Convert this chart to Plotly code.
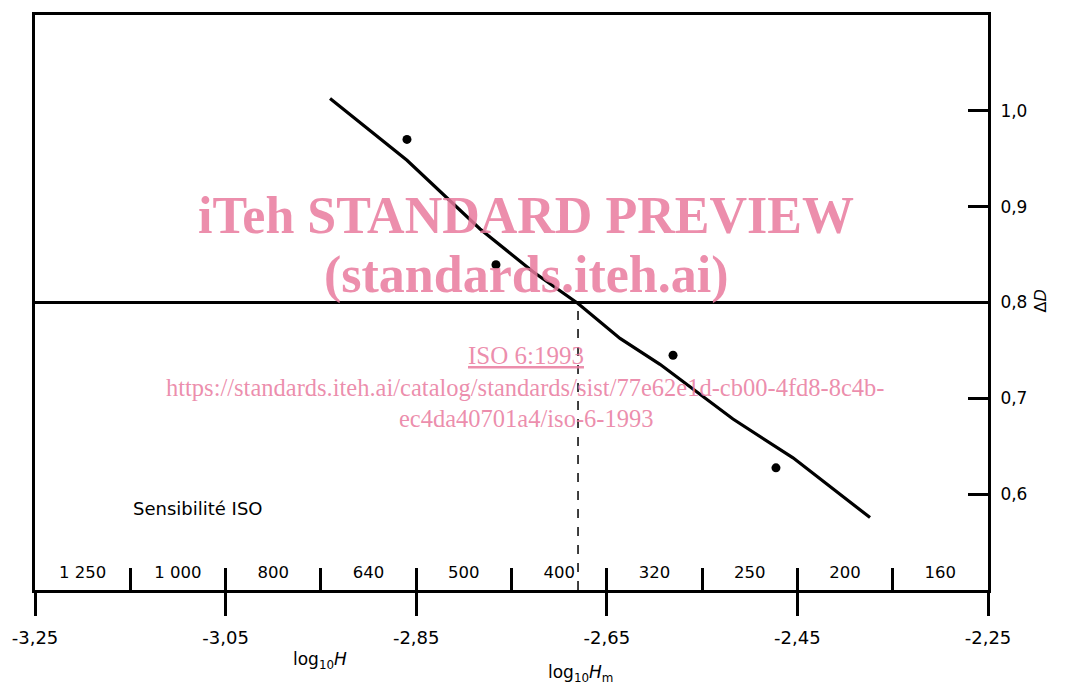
import plotly.graph_objects as go

# ---- data ----
fit_x = [-2.9404, -2.8597, -2.7830, -2.7274, -2.6802, -2.6361, -2.5942, -2.5176, -2.4546, -2.3738]
fit_y = [1.0128, 0.9484, 0.8767, 0.8321, 0.7989, 0.7625, 0.7355, 0.6784, 0.6379, 0.5756]
pts_x = [-2.8597, -2.7663, -2.5805, -2.4725]
pts_y = [0.9702, 0.8394, 0.7449, 0.6275]
ref_density = 0.8
log_hm = -2.6802
x_ticks = [-3.25, -3.05, -2.85, -2.65, -2.45, -2.25]
x_ticktext = ["-3,25", "-3,05", "-2,85", "-2,65", "-2,45", "-2,25"]
y_ticks = [0.6, 0.7, 0.8, 0.9, 1.0]
y_ticktext = ["0,6", "0,7", "0,8", "0,9", "1,0"]
iso_bounds = [-3.25, -3.15, -3.05, -2.95, -2.85, -2.75, -2.65, -2.55, -2.45, -2.35, -2.25]
iso_speeds = ["1 250", "1 000", "800", "640", "500", "400", "320", "250", "200", "160"]

X_RANGE = [-3.25, -2.25]
Y_RANGE = [0.5, 1.1]
FONT = "DejaVu Sans"

iso_mid = [(a + b) / 2 for a, b in zip(iso_bounds[:-1], iso_bounds[1:])]

fig = go.Figure()

# reference density line
fig.add_trace(go.Scatter(x=X_RANGE, y=[ref_density, ref_density], mode="lines",
                         line=dict(color="black", width=3), hoverinfo="skip"))
# dashed drop line
fig.add_trace(go.Scatter(x=[log_hm, log_hm], y=[Y_RANGE[0], ref_density], mode="lines",
                         line=dict(color="black", width=1.5, dash="dash"), hoverinfo="skip"))
# fitted curve
fig.add_trace(go.Scatter(x=fit_x, y=fit_y, mode="lines",
                         line=dict(color="black", width=3.2)))
# measured points
fig.add_trace(go.Scatter(x=pts_x, y=pts_y, mode="markers",
                         marker=dict(color="black", size=9)))
# ISO speed labels
fig.add_trace(go.Scatter(x=iso_mid, y=[0.5164] * len(iso_mid), mode="text", text=iso_speeds,
                         textfont=dict(family=FONT, size=16.5, color="black"),
                         xaxis="x2", hoverinfo="skip"))

axis_common = dict(showgrid=False, zeroline=False, tickcolor="black", tickwidth=3)

fig.update_layout(
    width=1068, height=686,
    margin=dict(l=27, r=88, t=4, b=104),
    paper_bgcolor="white", plot_bgcolor="white",
    showlegend=False,
    font=dict(family=FONT, size=16, color="black"),
    xaxis=dict(range=X_RANGE, tickvals=x_ticks, ticktext=x_ticktext, ticks="outside",
               ticklen=23, showline=True, mirror=True, ticklabelstandoff=6,
               linecolor="black", linewidth=3,
               tickfont=dict(family=FONT, size=18), **axis_common),
    xaxis2=dict(range=X_RANGE, overlaying="x", anchor="y", side="bottom",
                tickvals=iso_bounds, ticks="inside", ticklen=22, showticklabels=False,
                showline=False, **axis_common),
    yaxis=dict(range=Y_RANGE, side="right", tickvals=y_ticks, ticktext=y_ticktext,
               ticks="inside", ticklen=20, showline=True, mirror=True, ticklabelstandoff=6,
               linecolor="black", linewidth=3,
               tickfont=dict(family=FONT, size=17), **axis_common),
)


def note(text, x, y, size, family=FONT, color="black", **kw):
    font = dict(family=family, size=size, color=color)
    font.update(kw.pop("font_extra", {}))
    return dict(text=text, x=x, y=y, xref="paper", yref="paper", xanchor="center",
                yanchor="middle", showarrow=False, font=font, **kw)


wm = "rgba(233,122,158,0.85)"
ann = [
    note("log<sub>10</sub><i>H</i>", 0.299, -0.122, 17),
    note("log<sub>10</sub><i>H</i><sub>m</sub>", 0.572, -0.146, 17),
    note("Δ<i>D</i>", 1.0546, 0.502, 16, textangle=-90),
    note("Sensibilité ISO", 0.170, 0.142, 18),
    note("<b>iTeh STANDARD PREVIEW</b>", 0.515, 0.652, 52, "Liberation Serif", wm),
    note("<b>(standards.iteh.ai)</b>", 0.515, 0.547, 52, "Liberation Serif", wm),
    note("ISO 6:1993", 0.515, 0.408, 25, "Liberation Serif", wm,
         font_extra=dict(lineposition="under")),
    note("https://standards.iteh.ai/catalog/standards/sist/77e62e1d-cb00-4fd8-8c4b-",
         0.515, 0.353, 24.5, "Liberation Serif", wm),
    note("ec4da40701a4/iso-6-1993", 0.515, 0.298, 24.5, "Liberation Serif", wm),
]
fig.update_layout(annotations=ann)

fig.write_html("out.html")
